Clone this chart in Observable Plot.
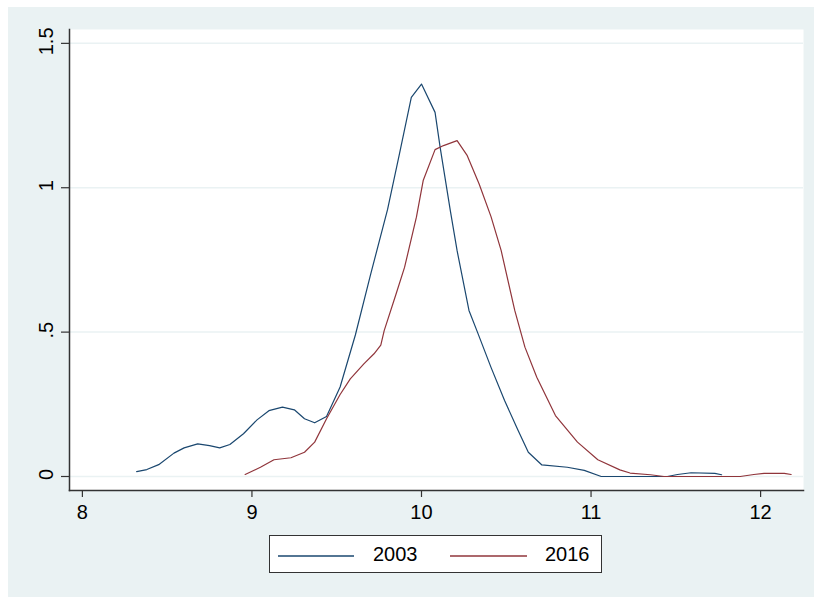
<!DOCTYPE html>
<html><head><meta charset="utf-8">
<script src="https://cdn.jsdelivr.net/npm/d3@7"></script>
<script src="https://cdn.jsdelivr.net/npm/@observablehq/plot@0.6"></script>
<style>
html,body{margin:0;padding:0;background:#fff;width:822px;height:598px;overflow:hidden;font-family:"Liberation Sans",Arial,sans-serif}
#bg{position:absolute;left:8px;top:7px;width:806px;height:590px;background:#EAF2F3}
#chart{position:absolute;left:0;top:0}
#legend{position:absolute;left:269px;top:535px;width:331px;height:36px;background:#fff;border:1px solid #333;box-sizing:content-box}
#legend .sw{position:absolute;top:19px;height:2px}
#legend .lb{position:absolute;top:7px;font-size:20px;line-height:23px;color:#000}
</style>
</head><body>
<div id="bg"></div>
<div id="chart"></div>
<div id="legend"></div>
<script>
const seriesNames = ["2003", "2016"];
const seriesColors = ["#1a476f", "#90353b"];

const x2003 = [8.32,8.38,8.45,8.54,8.60,8.68,8.75,8.81,8.87,8.95,9.03,9.10,9.18,9.25,9.31,9.37,9.44,9.52,9.61,9.70,9.80,9.87,9.94,10.00,10.08,10.11,10.17,10.21,10.28,10.33,10.41,10.49,10.57,10.63,10.71,10.86,10.96,11.06,11.20,11.45,11.51,11.59,11.73,11.77];
const y2003 = [0.017,0.024,0.041,0.081,0.099,0.113,0.107,0.099,0.111,0.148,0.196,0.228,0.240,0.231,0.200,0.186,0.208,0.310,0.490,0.700,0.925,1.117,1.313,1.359,1.261,1.140,0.921,0.782,0.575,0.500,0.378,0.263,0.159,0.084,0.040,0.032,0.021,0.0,0.0,0.0,0.007,0.013,0.011,0.006];

const x2016 = [8.96,9.05,9.13,9.23,9.31,9.37,9.44,9.52,9.58,9.66,9.72,9.76,9.78,9.85,9.90,9.97,10.01,10.08,10.13,10.21,10.27,10.34,10.41,10.47,10.55,10.61,10.68,10.79,10.92,11.04,11.17,11.23,11.35,11.43,11.88,11.96,12.02,12.14,12.18];
const y2016 = [0.007,0.032,0.058,0.065,0.084,0.119,0.200,0.284,0.338,0.390,0.425,0.455,0.505,0.632,0.724,0.898,1.025,1.132,1.146,1.163,1.111,1.013,0.900,0.782,0.575,0.448,0.344,0.211,0.119,0.058,0.023,0.012,0.006,0.0,0.0,0.007,0.011,0.011,0.007];

const xTicks = [8, 9, 10, 11, 12];
const xTickLabels = ["8", "9", "10", "11", "12"];
const yTicks = [0, 0.5, 1, 1.5];
const yTickLabels = ["0", ".5", "1", "1.5"];

const data = [
  ...x2003.map((x, i) => ({series: "2003", x, y: y2003[i]})),
  ...x2016.map((x, i) => ({series: "2016", x, y: y2016[i]}))
];

const chart = Plot.plot({
  width: 822,
  height: 530,
  marginLeft: 69,
  marginRight: 19,
  marginTop: 29,
  marginBottom: 40,
  style: {background: "transparent", fontFamily: "'Liberation Sans', Arial, sans-serif", color: "#000"},
  x: {domain: [7.924, 12.253], label: null},
  y: {domain: [-0.0485, 1.548], label: null},
  color: {domain: seriesNames, range: seriesColors},
  marks: [
    Plot.frame({fill: "white", stroke: "none"}),
    Plot.gridY(yTicks, {stroke: "#EAF2F3", strokeOpacity: 1, strokeWidth: 1.5}),
    Plot.line(data, {x: "x", y: "y", z: "series", stroke: "series", strokeWidth: 1.2}),
    Plot.frame({anchor: "left", stroke: "#333", strokeWidth: 1.5}),
    Plot.frame({anchor: "bottom", stroke: "#333", strokeWidth: 1.5}),
    Plot.axisY(yTicks, {tickSize: 8, text: null, label: null, stroke: "#333", strokeWidth: 1.2}),
    Plot.text(yTicks, {frameAnchor: "left", y: d => d, text: (d, i) => yTickLabels[i], rotate: -90, dx: -17, dy: -2, textAnchor: "middle", lineAnchor: "bottom", fontSize: 20, fill: "#000"}),
    Plot.axisX(xTicks, {tickSize: 7, text: null, label: null, stroke: "#333", strokeWidth: 1.2}),
    Plot.text(xTicks, {frameAnchor: "bottom", x: d => d, text: (d, i) => xTickLabels[i], dy: 14, textAnchor: "middle", lineAnchor: "top", fontSize: 20, fill: "#000"})
  ]
});
document.getElementById("chart").appendChild(chart);

const legend = document.getElementById("legend");
const swX = [8, 180], swW = [76, 77], lbX = [103, 275];
seriesNames.forEach((name, i) => {
  const sw = document.createElement("div");
  sw.className = "sw";
  sw.style.left = swX[i] + "px";
  sw.style.width = swW[i] + "px";
  sw.style.background = seriesColors[i];
  sw.style.opacity = 0.75;
  legend.appendChild(sw);
  const lb = document.createElement("div");
  lb.className = "lb";
  lb.style.left = lbX[i] + "px";
  lb.textContent = name;
  legend.appendChild(lb);
});
</script>
</body></html>
